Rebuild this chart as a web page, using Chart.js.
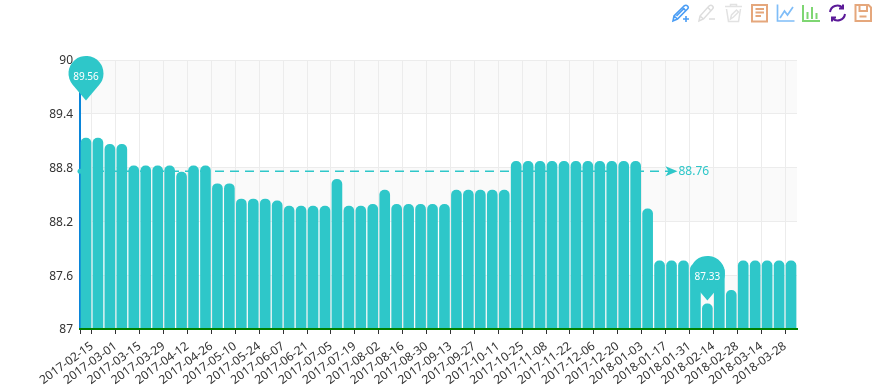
<!DOCTYPE html>
<html>
<head>
<meta charset="utf-8">
<style>
  html, body { margin: 0; padding: 0; background: #fff; }
  #wrap { position: relative; width: 876px; height: 388px; }
</style>
<script src="https://cdn.jsdelivr.net/npm/chart.js@4/dist/chart.umd.min.js"></script>
</head>
<body>
<div id="wrap"><canvas id="fundChart" width="876" height="388"></canvas></div>
<script>
const dates = [
  '2017-02-15','2017-02-22','2017-03-01','2017-03-08','2017-03-15','2017-03-22','2017-03-29','2017-04-05','2017-04-12','2017-04-19',
  '2017-04-26','2017-05-03','2017-05-10','2017-05-17','2017-05-24','2017-05-31','2017-06-07','2017-06-14','2017-06-21','2017-06-28',
  '2017-07-05','2017-07-12','2017-07-19','2017-07-26','2017-08-02','2017-08-09','2017-08-16','2017-08-23','2017-08-30','2017-09-06',
  '2017-09-13','2017-09-20','2017-09-27','2017-10-04','2017-10-11','2017-10-18','2017-10-25','2017-11-01','2017-11-08','2017-11-15',
  '2017-11-22','2017-11-29','2017-12-06','2017-12-13','2017-12-20','2017-12-27','2018-01-03','2018-01-10','2018-01-17','2018-01-24',
  '2018-01-31','2018-02-07','2018-02-14','2018-02-21','2018-02-28','2018-03-07','2018-03-14','2018-03-21','2018-03-28','2018-04-04'
];
const values = [
  89.13,89.13,89.06,89.06,88.82,88.82,88.82,88.82,88.75,88.82,
  88.82,88.62,88.62,88.45,88.45,88.45,88.43,88.37,88.37,88.37,
  88.37,88.67,88.37,88.37,88.39,88.55,88.39,88.39,88.39,88.39,
  88.39,88.55,88.55,88.55,88.55,88.55,88.87,88.87,88.87,88.87,
  88.87,88.87,88.87,88.87,88.87,88.87,88.87,88.34,87.76,87.76,
  87.76,87.72,87.28,87.7,87.43,87.76,87.76,87.76,87.76,87.76
];
const yMin = 87;
const yMax = 90;
const yStep = 0.6;
const avgValue = 88.76;
const avgEndIndex = 49.5;
const maxPin = { index: 0, value: 89.56 };
const minPin = { index: 52, value: 87.33 };

const teal = '#2ec7c9';
const uiFont = '"Noto Sans", "Open Sans", sans-serif';

// toolbox icons, drawn in a local 18x18 box
const toolIcons = [
  { x: 672, color: '#4a9df5', width: 1.6, paths: ['M1 17 L2 12 L12 2 Q14 0.5 15.5 2 Q17 3.5 15.5 5 L5.5 15 Z M2 12 L5.5 15 M10.5 3.5 L14 7 M12.5 4 L4.5 12', 'M11 15 H17 M14 12 V18'] },
  { x: 698, color: '#dddddd', width: 1.5, paths: ['M1 17 L2 12 L11 2 Q13 0.5 14.5 2 Q16 3.5 14.5 5 L5.5 15 Z M2 12 L5.5 15 M10 3.5 L13 7', 'M11 15 H17'] },
  { x: 724.5, color: '#e2e2e2', width: 1.5, paths: ['M0.5 2.5 H17.5 M6 2 V0.5 H12 V2 M2 5 L4 17.5 H14 L16 5', 'M6 15 L7 11 L12 6 L14 8 L9 13 Z'] },
  { x: 751, color: '#e5a77c', width: 2, paths: ['M1 1 H16 V17.5 H1 Z', 'M4.5 5 H13 M4.5 8.5 H13 M4.5 12 H10'] },
  { x: 776.5, color: '#7fbdf8', width: 1.7, paths: ['M1 0.5 V17 H18', 'M3.5 14 L8 7 L11 11 L16.5 3'] },
  { x: 802, color: '#7ed672', width: 2, paths: ['M1 1 V17 H18', 'M5.5 15 V8 M10 15 V3 M14.5 15 V9'] },
  { x: 828.5, color: '#5b1a98', width: 2, paths: ['M1.5 8 A7.5 7.5 0 0 1 14 3.5 M14.5 0.5 V4.5 H10.5', 'M16.5 10 A7.5 7.5 0 0 1 4 14.5 M3.5 17.5 V13.5 H7.5'] },
  { x: 854.5, color: '#e5a77c', width: 2, paths: ['M1 1 H14 L16.5 3.5 V17 H1 Z', 'M5 1 V7 H12.5 V1 M5 12.5 H12'] }
];

const chartDecor = {
  id: 'chartDecor',
  beforeDraw(chart) {
    // alternating split bands behind the grid
    const { ctx, scales: { y }, chartArea: area } = chart;
    ctx.save();
    ctx.fillStyle = '#fafafa';
    for (let i = 0, v = yMax; v > yMin + 0.01; i++, v -= yStep) {
      if (i % 2 === 0) {
        const top = y.getPixelForValue(v);
        const bottom = y.getPixelForValue(v - yStep);
        ctx.fillRect(area.left, top, area.right - area.left, bottom - top);
      }
    }
    ctx.restore();
  },
  beforeDatasetsDraw(chart) {
    // average line sits behind the bars
    const { ctx, scales: { x, y }, chartArea: area } = chart;
    const py = y.getPixelForValue(avgValue);
    const endX = x.getPixelForValue(avgEndIndex);
    ctx.save();
    ctx.strokeStyle = teal;
    ctx.fillStyle = teal;
    ctx.lineWidth = 1.5;
    ctx.setLineDash([9, 6]);
    ctx.beginPath();
    ctx.moveTo(area.left, py);
    ctx.lineTo(endX - 8, py);
    ctx.stroke();
    ctx.setLineDash([]);
    ctx.beginPath();
    ctx.arc(area.left, py, 2.5, 0, Math.PI * 2);
    ctx.fill();
    ctx.beginPath();
    ctx.moveTo(endX, py);
    ctx.lineTo(endX - 12, py - 5);
    ctx.lineTo(endX - 9, py);
    ctx.lineTo(endX - 12, py + 5);
    ctx.closePath();
    ctx.fill();
    ctx.font = '12px ' + uiFont;
    ctx.textAlign = 'left';
    ctx.textBaseline = 'middle';
    ctx.fillText(avgValue.toFixed(2), endX + 1, py);
    ctx.restore();
  },
  afterDatasetsDraw(chart) {
    const { ctx, scales: { x, y } } = chart;
    [maxPin, minPin].forEach(pin => {
      const tipX = x.getPixelForValue(pin.index);
      const tipY = y.getPixelForValue(pin.value) + 1;
      const r = 17.5;
      const cy = tipY - 27;
      const spread = Math.acos(r / 27);
      ctx.save();
      ctx.fillStyle = teal;
      ctx.beginPath();
      ctx.arc(tipX, cy, r, Math.PI / 2 + spread, Math.PI / 2 - spread);
      ctx.lineTo(tipX, tipY);
      ctx.closePath();
      ctx.fill();
      ctx.fillStyle = '#fff';
      ctx.font = '10px ' + uiFont;
      ctx.textAlign = 'center';
      ctx.textBaseline = 'middle';
      ctx.fillText(pin.value.toFixed(2), tipX, cy + 4);
      ctx.restore();
    });
    toolIcons.forEach(icon => {
      ctx.save();
      ctx.translate(icon.x, 4);
      ctx.strokeStyle = icon.color;
      ctx.lineWidth = icon.width;
      icon.paths.forEach(d => ctx.stroke(new Path2D(d)));
      ctx.restore();
    });
  }
};

const stockChart = new Chart(document.getElementById('fundChart'), {
  type: 'bar',
  data: {
    labels: dates,
    datasets: [{
      data: values,
      backgroundColor: teal,
      barThickness: 10,
      borderRadius: 5,
      borderSkipped: false
    }]
  },
  options: {
    responsive: false,
    animation: false,
    layout: { padding: { top: 60, right: 79 } },
    plugins: { legend: { display: false }, tooltip: { enabled: false } },
    scales: {
      x: {
        afterFit: s => { s.height = 59; },
        grid: {
          offset: true,
          tickLength: 5,
          color: ctx => (ctx.index % 2 === 1 || ctx.index === 60 ? '#ececec' : 'rgba(0,0,0,0)'),
          tickColor: ctx => (ctx.index % 2 === 1 || ctx.index === 0 ? '#333333' : 'rgba(0,0,0,0)')
        },
        border: { color: '#008000', width: 2, z: 1 },
        ticks: {
          autoSkip: false,
          minRotation: 36,
          maxRotation: 36,
          padding: 5,
          labelOffset: 6,
          color: '#333',
          font: { family: uiFont, size: 12 },
          callback(value, index) { return index % 2 === 0 ? dates[index] : ''; }
        }
      },
      y: {
        min: yMin,
        max: yMax,
        afterFit: s => { s.width = 80; },
        afterBuildTicks: s => {
          s.ticks = [];
          for (let i = 0; i <= 5; i++) s.ticks.push({ value: yMin + i * yStep });
        },
        grid: {
          color: ctx => (ctx.index === 0 ? 'rgba(0,0,0,0)' : '#ececec'),
          drawTicks: false
        },
        border: { color: '#0a85d9', width: 2 },
        ticks: {
          padding: 7,
          labelOffset: 1,
          color: '#333',
          font: { family: uiFont, size: 12 },
          callback: value => String(+value.toFixed(1))
        }
      }
    }
  },
  plugins: [chartDecor]
});
</script>
</body>
</html>
